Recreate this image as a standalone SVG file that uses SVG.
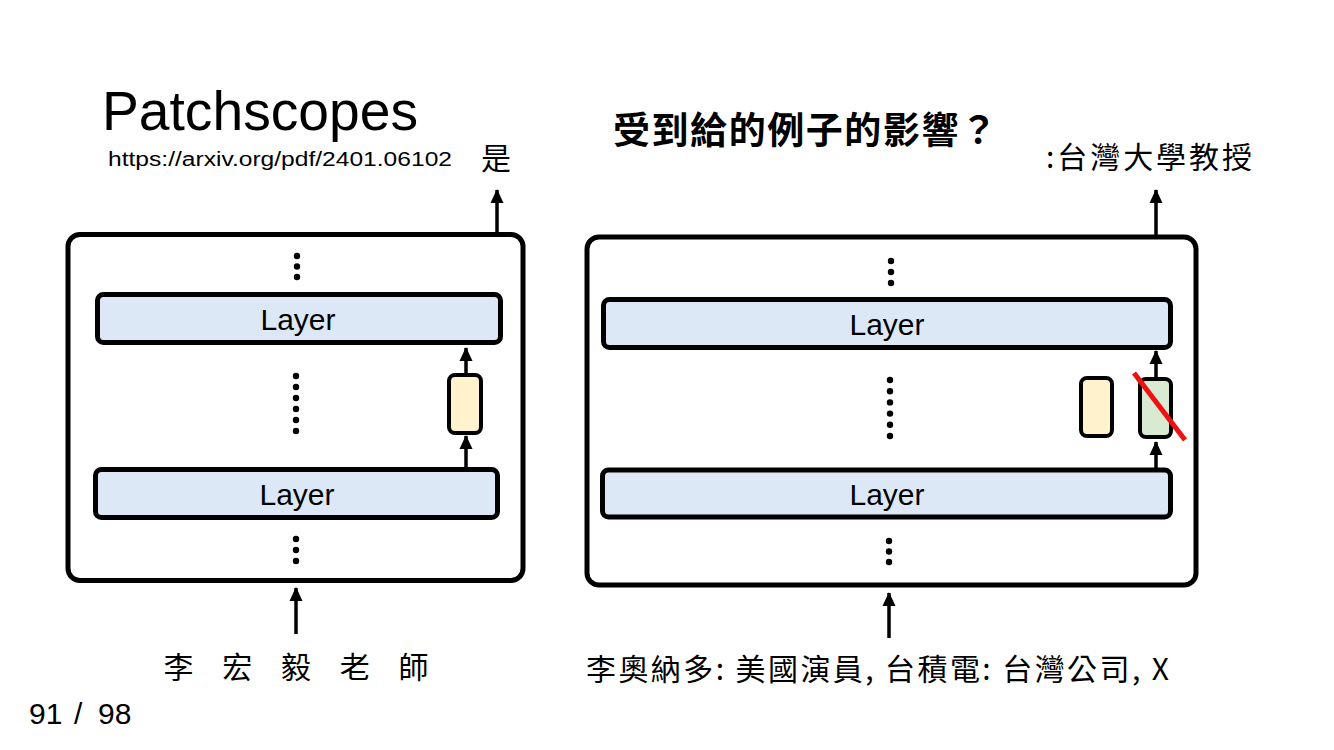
<svg xmlns="http://www.w3.org/2000/svg" width="1334" height="750" viewBox="0 0 1334 750">
<defs>
<style>
.lat{font-family:"Liberation Sans",Arial,sans-serif;fill:#000}
.cjk{font-family:"Noto Sans CJK TC","Noto Sans CJK SC",sans-serif;fill:#000}
.outer{fill:#fff;stroke:#000;stroke-width:5}
.layer{fill:#dce8f5;stroke:#000;stroke-width:5}
.lt{font-family:"Liberation Sans",Arial,sans-serif;font-size:30px;text-anchor:middle;fill:#000}
.yel{fill:#fff2cc;stroke:#000;stroke-width:4}
.grn{fill:#d9ead3;stroke:#000;stroke-width:4}
.ln{stroke:#000;stroke-width:3.5;fill:none;marker-end:url(#ah)}
.dot{fill:#000}
</style>
<marker id="ah" markerWidth="16" markerHeight="16" refX="13" refY="7" orient="auto" markerUnits="userSpaceOnUse">
<path d="M0,0.5 L14,7 L0,13.5 Z" fill="#000"/>
</marker>
</defs>
<rect width="1334" height="750" fill="#fff"/>

<g id="titles">
<text class="lat" x="102" y="130" font-size="56" textLength="316" lengthAdjust="spacingAndGlyphs">Patchscopes</text>
<text class="lat" x="108" y="166" font-size="19.5" textLength="344" lengthAdjust="spacingAndGlyphs">https://arxiv.org/pdf/2401.06102</text>
<text class="cjk" x="613" y="144" font-size="37" font-weight="bold" textLength="384" lengthAdjust="spacing">受到給的例子的影響？</text>
<text class="lat" y="724" font-size="30"><tspan x="29">91</tspan><tspan x="74">/</tspan><tspan x="98">98</tspan></text>
</g>

<g id="left-model">
<rect class="outer" x="68" y="234.5" width="455" height="346" rx="12"/>
<rect class="layer" x="97.5" y="294.5" width="403" height="48" rx="6"/>
<text class="lt" x="298" y="330">Layer</text>
<rect class="layer" x="95.5" y="469.5" width="402" height="48" rx="6"/>
<text class="lt" x="297" y="505">Layer</text>
<g class="dot">
<circle cx="297" cy="256" r="3.2"/><circle cx="297" cy="266.5" r="3.2"/><circle cx="297" cy="277" r="3.2"/>
<circle cx="296" cy="376" r="3.2"/><circle cx="296" cy="387" r="3.2"/><circle cx="296" cy="398" r="3.2"/><circle cx="296" cy="409" r="3.2"/><circle cx="296" cy="420" r="3.2"/><circle cx="296" cy="431" r="3.2"/>
<circle cx="296" cy="539" r="3.2"/><circle cx="296" cy="550" r="3.2"/><circle cx="296" cy="561" r="3.2"/>
</g>
</g>
<g id="left-patch">
<rect class="yel" x="449" y="375" width="32" height="58" rx="6"/>
</g>
<g id="left-output">
<text class="cjk" x="481" y="169" font-size="30">是</text>
</g>
<g id="left-input">
<text class="cjk" x="296" y="678" font-size="30" text-anchor="middle" textLength="265" lengthAdjust="spacing">李 宏 毅 老 師</text>
</g>

<g id="right-model">
<rect class="outer" x="587" y="237" width="609" height="348" rx="12"/>
<rect class="layer" x="603.5" y="299.5" width="567" height="48" rx="6"/>
<text class="lt" x="887" y="335">Layer</text>
<rect class="layer" x="602.5" y="470" width="568" height="47" rx="6"/>
<text class="lt" x="887" y="505">Layer</text>
<g class="dot">
<circle cx="891" cy="261" r="3.2"/><circle cx="891" cy="272" r="3.2"/><circle cx="891" cy="283" r="3.2"/>
<circle cx="890" cy="380" r="3.2"/><circle cx="890" cy="391.2" r="3.2"/><circle cx="890" cy="402.4" r="3.2"/><circle cx="890" cy="413.6" r="3.2"/><circle cx="890" cy="424.8" r="3.2"/><circle cx="890" cy="436" r="3.2"/>
<circle cx="889" cy="541" r="3.2"/><circle cx="889" cy="551.5" r="3.2"/><circle cx="889" cy="562" r="3.2"/>
</g>
</g>
<g id="right-patch-a">
<rect class="yel" x="1081" y="378" width="31" height="58" rx="6"/>
</g>
<g id="right-patch-b">
<rect class="grn" x="1140" y="379" width="31" height="58" rx="6"/>
<line x1="1134" y1="373" x2="1185" y2="440" stroke="#ee1111" stroke-width="5"/>
</g>
<g id="right-output">
<text class="cjk" x="1046" y="168" font-size="30" textLength="206" lengthAdjust="spacing">:台灣大學教授</text>
</g>
<g id="right-input">
<text class="cjk" x="586" y="680" font-size="30" textLength="583" lengthAdjust="spacing">李奧納多: 美國演員, 台積電: 台灣公司, X</text>
</g>

<g id="connectors">
<line class="ln" x1="497" y1="232" x2="497" y2="190"/>
<line class="ln" x1="466" y1="373" x2="466" y2="348"/>
<line class="ln" x1="466" y1="467" x2="466" y2="436"/>
<line class="ln" x1="296" y1="634" x2="296" y2="588"/>
<line class="ln" x1="1156" y1="235" x2="1156" y2="190"/>
<line class="ln" x1="1156" y1="377" x2="1156" y2="351"/>
<line class="ln" x1="1156" y1="468" x2="1156" y2="442"/>
<line class="ln" x1="889" y1="638" x2="889" y2="593"/>
</g>
</svg>
